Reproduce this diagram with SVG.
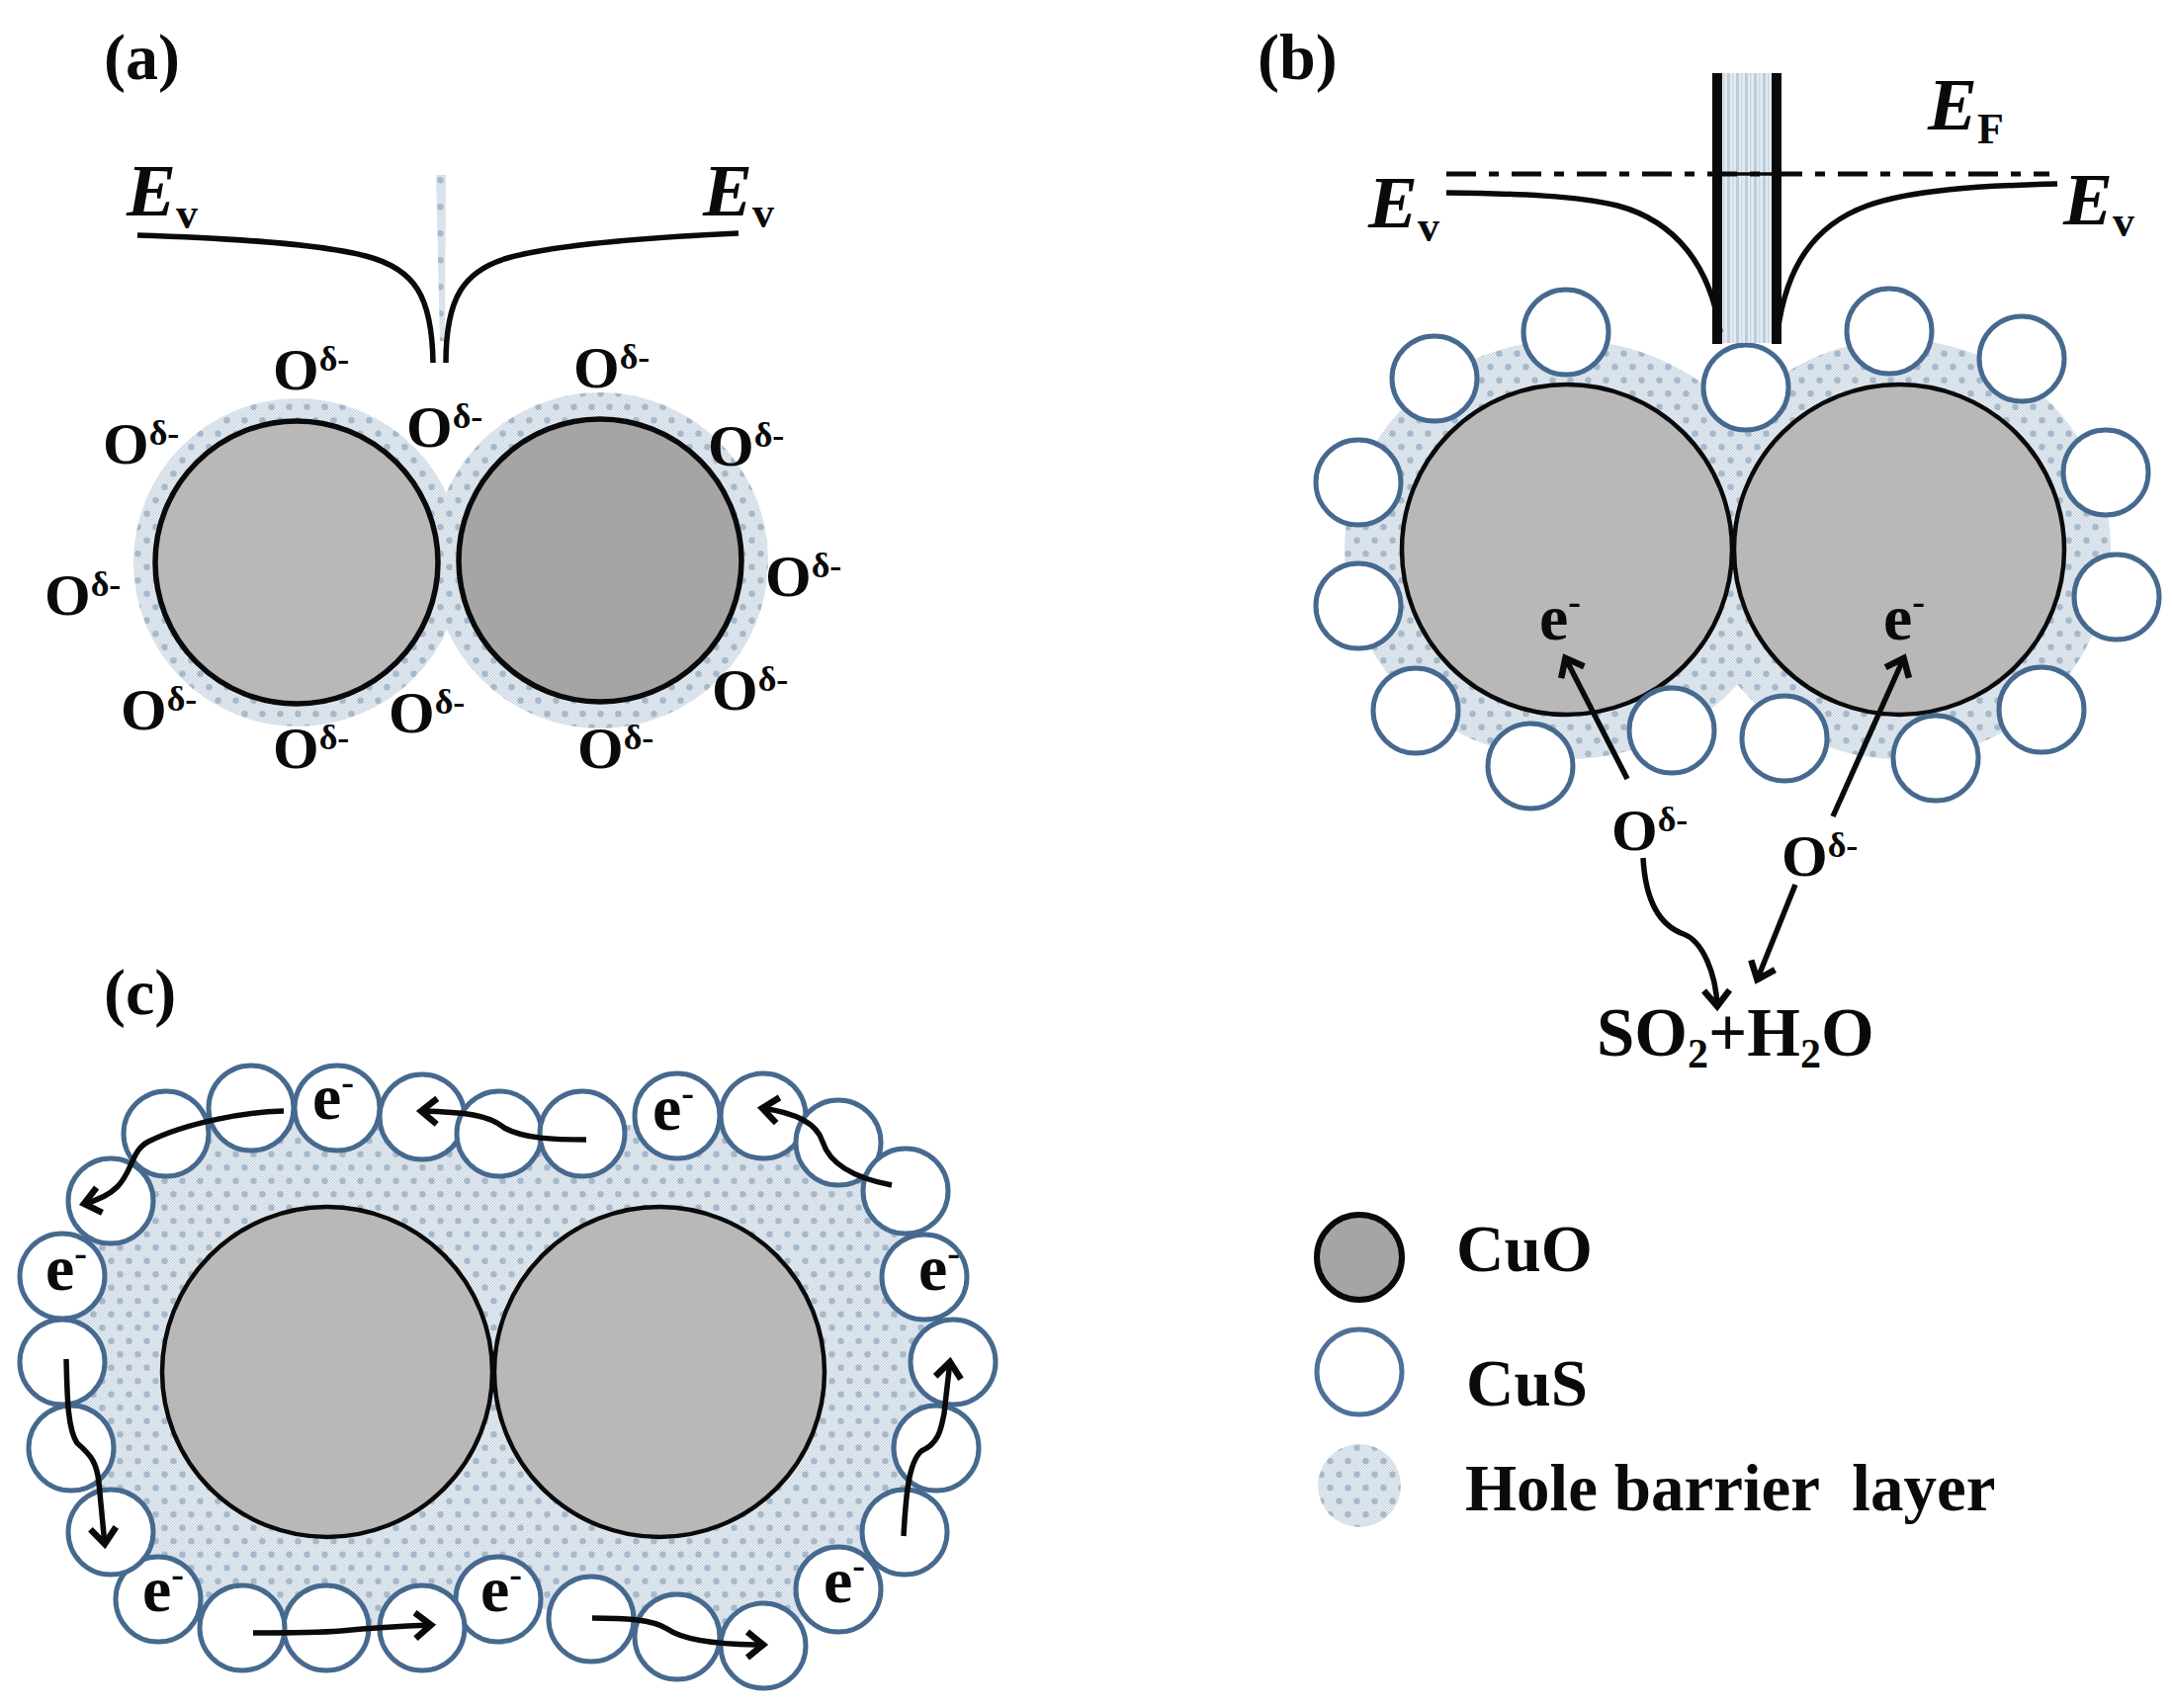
<svg xmlns="http://www.w3.org/2000/svg" width="2197" height="1728" viewBox="0 0 2197 1728">
<style>
text{font-family:"Liberation Serif","Times New Roman",serif;font-weight:bold;fill:#0a0a0a;white-space:pre}
.o{font-size:60px}.d{font-size:36px}
.ev{font-size:75px;font-style:italic}.sub{font-size:44px}
.lab{font-size:66px}.e{font-size:66px}.m{font-size:38px}
.leg{font-size:67px}.f{font-size:69px}.f2{font-size:42px}
.cu{fill:#b8b8b8;stroke:#0a0a0a;stroke-width:4.5}
.cs{fill:#fff;stroke:#46698f;stroke-width:5}
.hb{fill:url(#hbl)}
.band{fill:none;stroke:#0a0a0a;stroke-width:5.5;stroke-linecap:butt}
.arh{fill:none;stroke:#0a0a0a;stroke-width:5.5;marker-end:url(#head)}
</style>
<defs>
<pattern id="mesh" width="3" height="3" patternUnits="userSpaceOnUse">
<rect width="3" height="3" fill="#edf2f6"/><rect width="1.5" height="1.5" fill="#c6d3df"/><rect x="1.5" y="1.5" width="1.5" height="1.5" fill="#c6d3df"/>
</pattern>
<pattern id="hbl" width="18" height="27" patternUnits="userSpaceOnUse">
<rect width="18" height="27" fill="url(#mesh)"/>
<circle cx="4.5" cy="6.75" r="3.2" fill="#a6b9cb"/><circle cx="13.5" cy="20.25" r="3.2" fill="#a6b9cb"/>
</pattern>
<pattern id="stripes" width="9" height="12" patternUnits="userSpaceOnUse">
<rect width="9" height="12" fill="#e3ebf2"/><rect x="1" width="3" height="12" fill="#bccddc"/><rect x="6" width="1.5" height="12" fill="#ccd9e5"/>
</pattern>
<marker id="head" markerUnits="userSpaceOnUse" markerWidth="36" markerHeight="32" refX="25" refY="16" orient="auto">
<path d="M8,3 L24,16 L8,29" fill="none" stroke="#0a0a0a" stroke-width="6.5"/>
</marker>
</defs>
<rect width="2197" height="1728" fill="#fff"/>

<g id="panel-a">
<text class="lab" x="105" y="80">(a)</text>
<g id="a-layer"><circle class="hb" cx="301" cy="569" r="166"/><circle class="hb" cx="607" cy="567" r="170"/></g>
<g id="a-cuo-left"><circle cx="300" cy="569" r="143" fill="#b8b8b8" stroke="#0a0a0a" stroke-width="5.5"/></g>
<g id="a-cuo-right"><circle cx="607" cy="567" r="143" fill="#a5a5a5" stroke="#0a0a0a" stroke-width="5.5"/></g>
<g id="a-band">
<polygon class="hb" points="441,177 451,177 450,345 445,345"/>
<path class="band" d="M139,238 C230,241 320,246 370,259 C420,272 437,300 438,367"/>
<path class="band" d="M747,236 C660,240 560,247 510,262 C470,275 451,300 451,367"/>
<text class="ev" x="128" y="218">E</text><text class="sub" x="178" y="231">v</text>
<text class="ev" x="711" y="218">E</text><text class="sub" x="761" y="230">v</text>
</g>
<g id="a-oxygen">
<text x="276" y="394"><tspan class="o">O</tspan><tspan class="d" dy="-19">δ-</tspan></text>
<text x="104" y="469"><tspan class="o">O</tspan><tspan class="d" dy="-19">δ-</tspan></text>
<text x="411" y="452"><tspan class="o">O</tspan><tspan class="d" dy="-19">δ-</tspan></text>
<text x="580" y="392"><tspan class="o">O</tspan><tspan class="d" dy="-19">δ-</tspan></text>
<text x="716" y="471"><tspan class="o">O</tspan><tspan class="d" dy="-19">δ-</tspan></text>
<text x="45" y="622"><tspan class="o">O</tspan><tspan class="d" dy="-19">δ-</tspan></text>
<text x="774" y="603"><tspan class="o">O</tspan><tspan class="d" dy="-19">δ-</tspan></text>
<text x="122" y="738"><tspan class="o">O</tspan><tspan class="d" dy="-19">δ-</tspan></text>
<text x="393" y="741"><tspan class="o">O</tspan><tspan class="d" dy="-19">δ-</tspan></text>
<text x="276" y="777"><tspan class="o">O</tspan><tspan class="d" dy="-19">δ-</tspan></text>
<text x="584" y="777"><tspan class="o">O</tspan><tspan class="d" dy="-19">δ-</tspan></text>
<text x="720" y="718"><tspan class="o">O</tspan><tspan class="d" dy="-19">δ-</tspan></text>
</g>
</g>

<g id="panel-b">
<text class="lab" x="1272" y="80">(b)</text>
<g id="b-layer"><ellipse class="hb" cx="1585" cy="556" rx="225" ry="212"/><ellipse class="hb" cx="1921" cy="556" rx="214" ry="212"/></g>
<g id="b-cuo-left"><circle class="cu" cx="1585" cy="556" r="167"/></g>
<g id="b-cuo-right"><circle class="cu" cx="1921" cy="556" r="167"/></g>
<g id="b-cus">
<circle class="cs" cx="1584" cy="336" r="43"/><circle class="cs" cx="1451" cy="383" r="43"/><circle class="cs" cx="1374" cy="488" r="43"/><circle class="cs" cx="1374" cy="613" r="43"/><circle class="cs" cx="1432" cy="719" r="43"/><circle class="cs" cx="1548" cy="775" r="43"/><circle class="cs" cx="1691" cy="739" r="43"/><circle class="cs" cx="1805" cy="747" r="43"/><circle class="cs" cx="1958" cy="767" r="43"/><circle class="cs" cx="2065" cy="718" r="43"/><circle class="cs" cx="2141" cy="604" r="43"/><circle class="cs" cx="2130" cy="478" r="43"/><circle class="cs" cx="2045" cy="363" r="43"/><circle class="cs" cx="1911" cy="335" r="43"/><circle class="cs" cx="1766" cy="392" r="43"/>
</g>
<g id="b-band">
<rect x="1742" y="74" width="50" height="273" fill="url(#stripes)"/>
<line x1="1737" y1="74" x2="1737" y2="348" stroke="#0a0a0a" stroke-width="10"/>
<line x1="1797" y1="74" x2="1797" y2="348" stroke="#0a0a0a" stroke-width="10"/>
<line x1="1463" y1="176" x2="2073" y2="176" stroke="#0a0a0a" stroke-width="5" stroke-dasharray="30 13 10 13"/>
<line x1="1737" y1="176" x2="1797" y2="176" stroke="#0a0a0a" stroke-width="3.5"/>
<path class="band" d="M1463,195 C1536,196 1596,198 1636,208 C1696,224 1730,270 1740,336"/>
<path class="band" d="M2081,186 C2002,188 1934,192 1889,208 C1834,228 1807,270 1798,336"/>
<text class="ev" x="1384" y="230">E</text><text class="sub" x="1434" y="244">v</text>
<text class="ev" x="2087" y="227">E</text><text class="sub" x="2137" y="239">v</text>
<text class="ev" x="1950" y="131">E</text><text class="sub" x="2000" y="145">F</text>
</g>
<g id="b-labels">
<text x="1557" y="647"><tspan class="e">e</tspan><tspan class="m" dy="-26">-</tspan></text>
<text x="1905" y="647"><tspan class="e">e</tspan><tspan class="m" dy="-26">-</tspan></text>
<text x="1630" y="860"><tspan class="o">O</tspan><tspan class="d" dy="-19">δ-</tspan></text>
<text x="1802" y="886"><tspan class="o">O</tspan><tspan class="d" dy="-19">δ-</tspan></text>
<text x="1615" y="1068"><tspan class="f">SO</tspan><tspan class="f2" dy="12">2</tspan><tspan class="f" dy="-12">+H</tspan><tspan class="f2" dy="12">2</tspan><tspan class="f" dy="-12">O</tspan></text>
</g>
</g>

<g id="panel-c">
<text class="lab" x="105" y="1026">(c)</text>
<g id="c-layer"><polygon class="hb" points="168,1147 254,1121 341,1121 427,1130 505,1147 589,1147 685,1129 772,1129 848,1156 916,1205 935,1292 964,1378 947,1465 915,1550 848,1608 772,1665 685,1656 598,1638 504,1618 427,1647 330,1647 245,1647 160,1618 112,1550 72,1465 63,1378 63,1291 112,1215"/></g>
<g id="c-cuo-left"><circle class="cu" cx="331" cy="1388" r="167"/></g>
<g id="c-cuo-right"><circle class="cu" cx="667" cy="1388" r="167"/></g>
<g id="c-cus">
<circle class="cs" cx="168" cy="1147" r="43"/><circle class="cs" cx="254" cy="1121" r="43"/><circle class="cs" cx="341" cy="1121" r="43"/><circle class="cs" cx="427" cy="1130" r="43"/><circle class="cs" cx="505" cy="1147" r="43"/><circle class="cs" cx="589" cy="1147" r="43"/><circle class="cs" cx="685" cy="1129" r="43"/><circle class="cs" cx="772" cy="1129" r="43"/><circle class="cs" cx="848" cy="1156" r="43"/><circle class="cs" cx="916" cy="1205" r="43"/><circle class="cs" cx="935" cy="1292" r="43"/><circle class="cs" cx="964" cy="1378" r="43"/><circle class="cs" cx="947" cy="1465" r="43"/><circle class="cs" cx="915" cy="1550" r="43"/><circle class="cs" cx="848" cy="1608" r="43"/><circle class="cs" cx="772" cy="1665" r="43"/><circle class="cs" cx="685" cy="1656" r="43"/><circle class="cs" cx="598" cy="1638" r="43"/><circle class="cs" cx="504" cy="1618" r="43"/><circle class="cs" cx="427" cy="1647" r="43"/><circle class="cs" cx="330" cy="1647" r="43"/><circle class="cs" cx="245" cy="1647" r="43"/><circle class="cs" cx="160" cy="1618" r="43"/><circle class="cs" cx="112" cy="1550" r="43"/><circle class="cs" cx="72" cy="1465" r="43"/><circle class="cs" cx="63" cy="1378" r="43"/><circle class="cs" cx="63" cy="1291" r="43"/><circle class="cs" cx="112" cy="1215" r="43"/>
</g>
<g id="c-labels">
<text x="316" y="1132"><tspan class="e">e</tspan><tspan class="m" dy="-25">-</tspan></text>
<text x="46" y="1305"><tspan class="e">e</tspan><tspan class="m" dy="-25">-</tspan></text>
<text x="144" y="1630"><tspan class="e">e</tspan><tspan class="m" dy="-25">-</tspan></text>
<text x="486" y="1630"><tspan class="e">e</tspan><tspan class="m" dy="-25">-</tspan></text>
<text x="660" y="1143"><tspan class="e">e</tspan><tspan class="m" dy="-25">-</tspan></text>
<text x="929" y="1305"><tspan class="e">e</tspan><tspan class="m" dy="-25">-</tspan></text>
<text x="833" y="1621"><tspan class="e">e</tspan><tspan class="m" dy="-25">-</tspan></text>
</g>
</g>

<g id="connectors">
<path class="arh" d="M1646,788 L1583,665"/>
<path class="arh" d="M1854,826 L1926,665"/>
<path class="arh" d="M1662,868 C1664,905 1675,935 1703,945 C1722,952 1736,985 1737,1019"/>
<path class="arh" d="M1816,895 L1777,992"/>
<path class="arh" d="M287,1124 C250,1125 190,1135 150,1155 C125,1168 140,1205 84,1218"/>
<path class="arh" d="M593,1153 C560,1153 530,1152 510,1141 C495,1128 470,1125 425,1124"/>
<path class="arh" d="M902,1199 C870,1193 840,1180 832,1155 C826,1135 800,1125 770,1121"/>
<path class="arh" d="M67,1375 C68,1410 68,1445 78,1460 C92,1472 98,1480 100,1500 L106,1563"/>
<path class="arh" d="M256,1652 C290,1652 320,1652 345,1650 C375,1647 410,1645 437,1644"/>
<path class="arh" d="M599,1637 C630,1637 660,1638 675,1648 C695,1662 740,1664 773,1664"/>
<path class="arh" d="M914,1554 C916,1520 918,1480 932,1468 C950,1460 952,1445 955,1430 L961,1377"/>
</g>

<g id="legend">
<g id="legend-cuo"><circle cx="1375" cy="1272" r="43" fill="#a5a5a5" stroke="#0a0a0a" stroke-width="6"/><text class="leg" x="1473" y="1286">CuO</text></g>
<g id="legend-cus"><circle cx="1375" cy="1388" r="43" fill="#fff" stroke="#4f7099" stroke-width="5"/><text class="leg" x="1483" y="1422">CuS</text></g>
<g id="legend-layer"><circle class="hb" cx="1375" cy="1503" r="42"/><text class="leg" x="1482" y="1528">Hole barrier  layer</text></g>
</g>
</svg>
